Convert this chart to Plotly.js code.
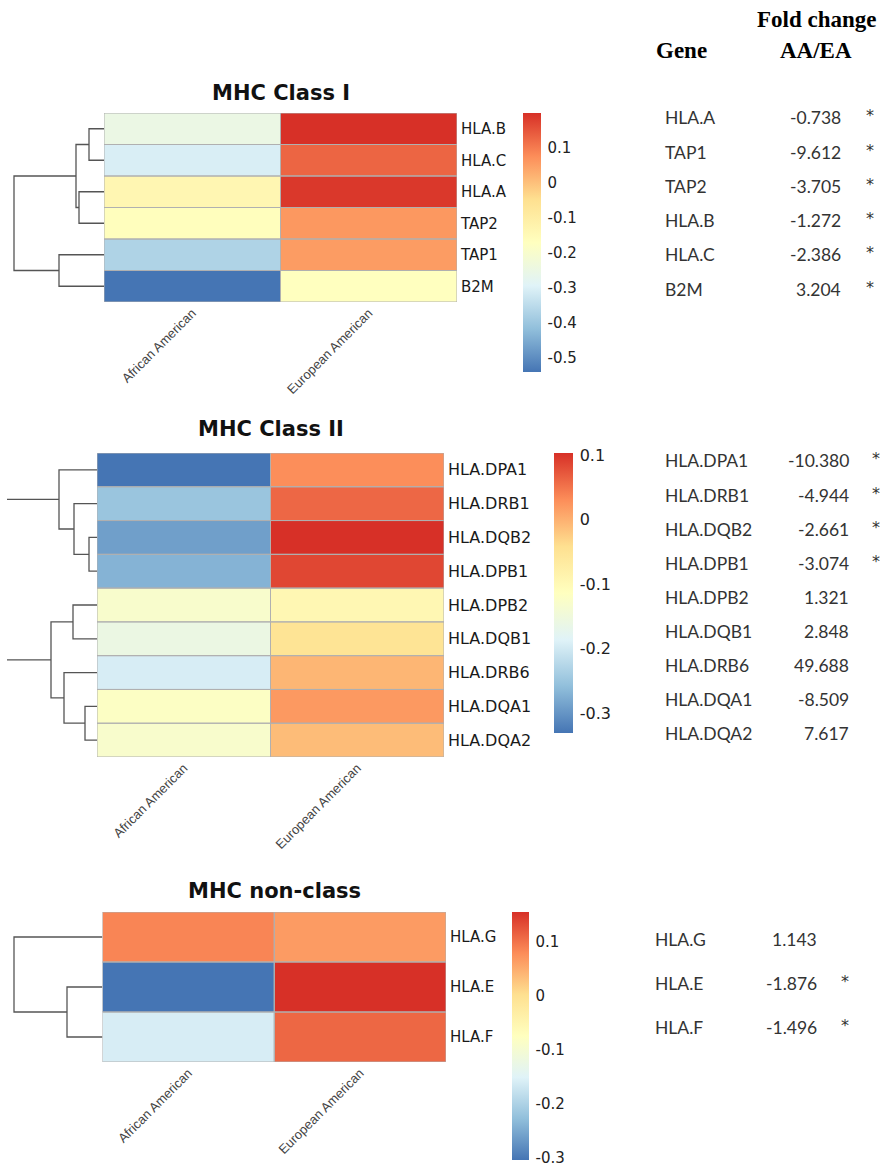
<!DOCTYPE html>
<html>
<head>
<meta charset="utf-8">
<script src="https://cdn.plot.ly/plotly-3.0.1.min.js"></script>
<style>html,body{margin:0;padding:0;background:#fff;}#chart{width:880px;height:1169px;}</style>
</head>
<body>
<div id="chart"></div>
<script>
// ---------------- DATA ----------------
const groups = ["African American", "European American"];

const class1Genes = ["HLA.B", "HLA.C", "HLA.A", "TAP2", "TAP1", "B2M"];
const class1AA = [-0.25, -0.305, -0.135, -0.165, -0.37, -0.54];
const class1EA = [0.20, 0.13, 0.19, 0.06, 0.055, -0.17];
const class1Range = [-0.54, 0.20];
const class1Ticks = [-0.5, -0.4, -0.3, -0.2, -0.1, 0, 0.1];
const class1MergeA = ["HLA.B", "HLA.A", "m0", "TAP1", "m2"];
const class1MergeB = ["HLA.C", "TAP2", "m1", "B2M", "m3"];
const class1MergeH = [15, 25, 28, 45, 90];

const class2Genes = ["HLA.DPA1", "HLA.DRB1", "HLA.DQB2", "HLA.DPB1", "HLA.DPB2", "HLA.DQB1", "HLA.DRB6", "HLA.DQA1", "HLA.DQA2"];
const class2AA = [-0.331, -0.25, -0.29, -0.27, -0.13, -0.16, -0.195, -0.12, -0.13];
const class2EA = [0.03, 0.06, 0.103, 0.085, -0.095, -0.05, -0.005, 0.02, -0.01];
const class2Range = [-0.331, 0.103];
const class2Ticks = [-0.3, -0.2, -0.1, 0, 0.1];
const class2MergeA = ["HLA.DQB2", "HLA.DRB1", "HLA.DPA1", "HLA.DPB2", "HLA.DQA1", "HLA.DRB6", "m3", "m2"];
const class2MergeB = ["HLA.DPB1", "m0", "m1", "HLA.DQB1", "HLA.DQA2", "m4", "m5", "m6"];
const class2MergeH = [8, 23, 38, 24, 12, 33, 46, 140];

const class3Genes = ["HLA.G", "HLA.E", "HLA.F"];
const class3AA = [0.085, -0.305, -0.16];
const class3EA = [0.065, 0.155, 0.11];
const class3Range = [-0.305, 0.155];
const class3Ticks = [-0.3, -0.2, -0.1, 0, 0.1];
const class3MergeA = ["HLA.E", "HLA.G"];
const class3MergeB = ["HLA.F", "m0"];
const class3MergeH = [35.5, 88.5];

const panelTitles = ["MHC Class I", "MHC Class II", "MHC non-class"];

const table1Genes = ["HLA.A", "TAP1", "TAP2", "HLA.B", "HLA.C", "B2M"];
const table1FC = [-0.738, -9.612, -3.705, -1.272, -2.386, 3.204];
const table1Sig = [true, true, true, true, true, true];

const table2Genes = ["HLA.DPA1", "HLA.DRB1", "HLA.DQB2", "HLA.DPB1", "HLA.DPB2", "HLA.DQB1", "HLA.DRB6", "HLA.DQA1", "HLA.DQA2"];
const table2FC = [-10.380, -4.944, -2.661, -3.074, 1.321, 2.848, 49.688, -8.509, 7.617];
const table2Sig = [true, true, true, true, false, false, false, false, false];

const table3Genes = ["HLA.G", "HLA.E", "HLA.F"];
const table3FC = [1.143, -1.876, -1.496];
const table3Sig = [false, true, true];

const headerGene = "Gene";
const headerFC = ["Fold change", "AA/EA"];

// ---------------- STYLE / LAYOUT ----------------
const W = 880, H = 1169;
const fx = p => p / W;
const fy = p => 1 - p / H;

const rdylbu = [
  [0, "#4575B4"], [1/6, "#91BFDB"], [2/6, "#E0F3F8"], [3/6, "#FFFFBF"],
  [4/6, "#FEE090"], [5/6, "#FC8D59"], [1, "#D73027"]
];

const panels = [
  {genes: class1Genes, aa: class1AA, ea: class1EA, range: class1Range, ticks: class1Ticks,
   mA: class1MergeA, mB: class1MergeB, mH: class1MergeH,
   hx: [104, 457], hy: [113, 302], dx: [10, 104], cb: {x: 523, top: 113, bottom: 372, th: 18},
   labelSize: 15, cbSize: 15, titleY: 93},
  {genes: class2Genes, aa: class2AA, ea: class2EA, range: class2Range, ticks: class2Ticks,
   mA: class2MergeA, mB: class2MergeB, mH: class2MergeH,
   hx: [97, 444], hy: [453, 757], dx: [7, 97], cb: {x: 554, top: 453, bottom: 733, th: 19},
   labelSize: 16, cbSize: 16, titleY: 429},
  {genes: class3Genes, aa: class3AA, ea: class3EA, range: class3Range, ticks: class3Ticks,
   mA: class3MergeA, mB: class3MergeB, mH: class3MergeH,
   hx: [102.5, 446], hy: [912, 1062], dx: [10, 102.5], cb: {x: 512, top: 912, bottom: 1160, th: 17},
   labelSize: 15, cbSize: 15, titleY: 891}
];

const tables = [
  {genes: table1Genes, fc: table1FC, sig: table1Sig, y0: 118, dy: 34.2, gx: 663, vx: 843, sx: 870},
  {genes: table2Genes, fc: table2FC, sig: table2Sig, y0: 461, dy: 34.1, gx: 663, vx: 851, sx: 876},
  {genes: table3Genes, fc: table3FC, sig: table3Sig, y0: 939, dy: 44, gx: 653, vx: 819, sx: 845}
];

const fontSans = "DejaVu Sans, Arial, sans-serif";
const fontTable = "Lato, Calibri, sans-serif";
const fontSerif = "Liberation Serif, Times New Roman, serif";

const traces = [];
const layout = {
  width: W, height: H,
  margin: {l: 0, r: 0, t: 0, b: 0},
  paper_bgcolor: "#ffffff", plot_bgcolor: "#ffffff",
  showlegend: false,
  annotations: [], shapes: []
};

panels.forEach((p, k) => {
  const hi = k + 1, di = k + 4;
  const n = p.genes.length;
  const xa = "x" + hi, ya = "y" + hi, xd = "x" + di, yd = "y" + di;
  const z = p.genes.map((g, i) => [p.aa[i], p.ea[i]]);
  traces.push({
    type: "heatmap", z: z, x: groups, y: p.genes,
    xaxis: xa, yaxis: ya,
    colorscale: rdylbu, zmin: p.range[0], zmax: p.range[1],
    colorbar: {
      x: fx(p.cb.x), xanchor: "left", xpad: 0,
      y: fy(p.cb.top), yanchor: "top", ypad: 0,
      len: p.cb.bottom - p.cb.top, lenmode: "pixels",
      thickness: p.cb.th, thicknessmode: "pixels",
      outlinewidth: 0,
      tickvals: p.ticks, ticktext: p.ticks.map(v => String(v)),
      ticks: "outside", ticklen: 4, tickcolor: "rgba(0,0,0,0)",
      ticklabeloverflow: "allow",
      tickfont: {family: fontSans, size: p.cbSize, color: "#222"}
    },
    hoverinfo: "skip"
  });
  const axn = s => s.replace(/^x/, "xaxis").replace(/^y/, "yaxis");
  layout[axn(xa)] = {
    domain: [fx(p.hx[0]), fx(p.hx[1])], anchor: ya, type: "category",
    range: [-0.5, groups.length - 0.5], tickangle: -45, ticks: "",
    showgrid: false, zeroline: false, showline: false, fixedrange: true,
    tickfont: {family: "Liberation Sans, Arial, sans-serif", size: 13, color: "#444"}
  };
  layout[axn(ya)] = {
    domain: [fy(p.hy[1]), fy(p.hy[0])], anchor: xa, type: "category", side: "right",
    range: [n - 0.5, -0.5], ticks: "", showgrid: false, zeroline: false, showline: false,
    fixedrange: true, ticklabelstandoff: 3,
    tickfont: {family: fontSans, size: p.labelSize, color: "#1a1a1a"}
  };
  // cell borders
  for (let i = 0; i < n; i++) {
    for (let j = 0; j < groups.length; j++) {
      layout.shapes.push({type: "rect", xref: xa, yref: ya, x0: j - 0.5, x1: j + 0.5, y0: i - 0.5, y1: i + 0.5,
        line: {color: "#b0b0b0", width: 1}, fillcolor: "rgba(0,0,0,0)", layer: "above"});
    }
  }
  // dendrogram
  const pos = {};
  p.genes.forEach((g, i) => { pos[g] = {y: i, h: 0}; });
  const xs = [], ys = [];
  p.mH.forEach((h, m) => {
    const a = pos[p.mA[m]], b = pos[p.mB[m]];
    xs.push(a.h, h, h, b.h, null);
    ys.push(a.y, a.y, b.y, b.y, null);
    pos["m" + m] = {y: (a.y + b.y) / 2, h: h};
  });
  const hmaxVisible = p.dx[1] - p.dx[0];
  traces.push({
    type: "scatter", mode: "lines", x: xs, y: ys, xaxis: xd, yaxis: yd,
    line: {color: "#555555", width: 1.3}, hoverinfo: "skip", cliponaxis: true
  });
  layout[axn(xd)] = {
    domain: [fx(p.dx[0]), fx(p.dx[1])], anchor: yd, range: [hmaxVisible, 0],
    visible: false, fixedrange: true
  };
  layout[axn(yd)] = {
    domain: [fy(p.hy[1]), fy(p.hy[0])], anchor: xd, range: [n - 0.5, -0.5],
    visible: false, fixedrange: true
  };
  // title
  layout.annotations.push({
    text: "<b>" + panelTitles[k] + "</b>", xref: "paper", yref: "paper",
    x: fx((p.hx[0] + p.hx[1]) / 2), y: fy(p.titleY), xanchor: "center", yanchor: "middle",
    showarrow: false, font: {family: fontSans, size: 21, color: "#111"}
  });
});

// table headers
layout.annotations.push({text: "<b>" + headerGene + "</b>", xref: "paper", yref: "paper",
  x: fx(681), y: fy(51), xanchor: "center", yanchor: "middle", showarrow: false,
  font: {family: fontSerif, size: 23, color: "#000"}});
headerFC.forEach((t, i) => {
  layout.annotations.push({text: "<b>" + t + "</b>", xref: "paper", yref: "paper",
    x: fx(816), y: fy(20 + i * 31), xanchor: "center", yanchor: "middle", showarrow: false,
    font: {family: fontSerif, size: 23, color: "#000"}});
});

tables.forEach(t => {
  t.genes.forEach((g, i) => {
    const yy = fy(t.y0 + i * t.dy);
    layout.annotations.push({text: g, xref: "paper", yref: "paper", x: fx(t.gx), y: yy,
      xanchor: "left", yanchor: "middle", showarrow: false,
      font: {family: fontTable, size: 17.5, color: "#333"}});
    layout.annotations.push({text: t.fc[i].toFixed(3), xref: "paper", yref: "paper", x: fx(t.vx), y: yy,
      xanchor: "right", yanchor: "middle", showarrow: false,
      font: {family: fontTable, size: 17.5, color: "#333"}});
    if (t.sig[i]) {
      layout.annotations.push({text: "*", xref: "paper", yref: "paper", x: fx(t.sx), y: yy,
        xanchor: "center", yanchor: "middle", showarrow: false, yshift: 2,
        font: {family: fontSans, size: 16, color: "#333"}});
    }
  });
});

Plotly.newPlot("chart", traces, layout, {staticPlot: true, displayModeBar: false});
</script>
</body>
</html>
